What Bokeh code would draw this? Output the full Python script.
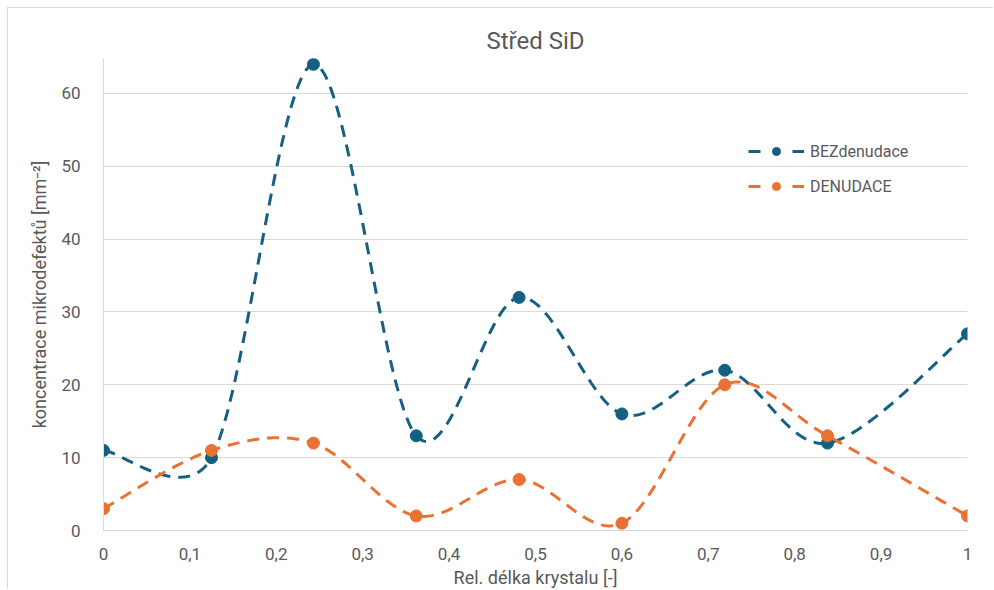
import numpy as np
from bokeh.plotting import figure
from bokeh.models import (FixedTicker, CustomJSTickFormatter, Legend, LegendItem,
                          Range1d)
from bokeh.embed import file_html
from bokeh.resources import INLINE

# relative crystal length positions and defect concentrations
rel_length = [0, 0.125, 0.243, 0.362, 0.481, 0.6, 0.719, 0.838, 1.0]
bez_denudace = [11, 10, 64, 13, 32, 16, 22, 12, 27]
denudace = [3, 11, 12, 2, 7, 1, 20, 13, 2]
series_names = ["BEZdenudace", "DENUDACE"]
x_ticks = [0, 0.1, 0.2, 0.3, 0.4, 0.5, 0.6, 0.7, 0.8, 0.9, 1.0]
y_ticks = [0, 10, 20, 30, 40, 50, 60]

BLUE = "#156082"
ORANGE = "#E97132"
GREY_TXT = "#595959"
GRID = "#d9d9d9"
FONT = "Roboto"

X_MAX, Y_MAX = 1.0, 64.8
FRAME_W, FRAME_H = 864, 473


def smooth(xs, ys, steps=40):
    """Bezier smoothing through the points; control handles are limited
    to half the segment length (measured in screen space)."""
    sx = FRAME_W / X_MAX
    sy = FRAME_H / Y_MAX
    pts = np.column_stack([np.asarray(xs, float) * sx, np.asarray(ys, float) * sy])
    n = len(pts)
    out = [pts[0]]
    t = np.linspace(0, 1, steps + 1)[1:, None]
    f0 = 1.0 / 6.0
    for i in range(n - 1):
        p0 = pts[max(i - 1, 0)]
        p1 = pts[i]
        p2 = pts[i + 1]
        p3 = pts[min(i + 2, n - 1)]
        d02 = np.hypot(*(p2 - p0))
        d13 = np.hypot(*(p3 - p1))
        d12 = np.hypot(*(p2 - p1))
        f1 = f2 = f0
        if d02 * f0 >= d12 / 2 and d02 > 0:
            f1 = d12 / d02 / 2
        if d13 * f0 >= d12 / 2 and d13 > 0:
            f2 = d12 / d13 / 2
        c1 = p1 + (p2 - p0) * f1
        c2 = p2 - (p3 - p1) * f2
        seg = ((1 - t) ** 3) * p1 + 3 * ((1 - t) ** 2) * t * c1 \
            + 3 * (1 - t) * (t ** 2) * c2 + (t ** 3) * p2
        out.extend(seg)
    out = np.array(out)
    return out[:, 0] / sx, out[:, 1] / sy


p = figure(width=986, height=582, margin=(8, 0, 0, 8),
           output_backend="svg", toolbar_location=None,
           x_range=Range1d(0, X_MAX), y_range=Range1d(0, Y_MAX),
           min_border_left=95, min_border_right=27,
           min_border_top=50, min_border_bottom=59)
p.styles = {"box-shadow": "-1px -1px 0 0 #d9d9d9"}
p.outline_line_color = None
p.background_fill_color = "white"
p.border_fill_color = "white"

# title
p.title.text = "Střed SiD"
p.title.align = "center"
p.title.offset = -27
p.title.text_font = FONT
p.title.text_font_size = "24px"
p.title.text_font_style = "normal"
p.title.text_color = GREY_TXT
p.title.standoff = 8

# axes
p.xaxis.ticker = FixedTicker(ticks=x_ticks)
p.yaxis.ticker = FixedTicker(ticks=y_ticks)
p.xaxis.formatter = CustomJSTickFormatter(code="return String(tick).replace('.', ',');")
for ax in (p.xaxis, p.yaxis):
    ax.major_tick_line_color = None
    ax.minor_tick_line_color = None
    ax.axis_line_color = GRID
    ax.axis_line_width = 1
    ax.major_label_text_font = FONT
    ax.major_label_text_font_size = "17px"
    ax.major_label_text_color = GREY_TXT
    ax.axis_label_text_font = FONT
    ax.axis_label_text_font_size = "18px"
    ax.axis_label_text_font_style = "normal"
    ax.axis_label_text_color = GREY_TXT
p.xaxis.major_label_standoff = 11
p.yaxis.major_label_standoff = 17
p.xaxis.axis_label = "Rel. délka krystalu [-]"
p.yaxis.axis_label = "koncentrace mikrodefektů [mm⁻²]"
p.xaxis.axis_label_standoff = 4
p.yaxis.axis_label_standoff = 8

p.xgrid.grid_line_color = None
p.ygrid.grid_line_color = GRID
p.ygrid.grid_line_width = 1

legend_items = []
for name, vals, color in ((series_names[0], bez_denudace, BLUE),
                          (series_names[1], denudace, ORANGE)):
    sx, sy = smooth(rel_length, vals)
    p.line(sx, sy, line_color=color, line_width=3, line_dash="12 8",
           line_cap="butt")
    pts = p.scatter(rel_length, vals, size=12, marker="circle",
                    fill_color=color, line_color=color)
    # legend-only line: dash - gap - dash around the marker
    key = p.line(x=[np.nan], y=[np.nan], line_color=color, line_width=3,
                 line_dash="12 32")
    legend_items.append(LegendItem(label=name, renderers=[key, pts]))

legend = Legend(items=legend_items, location=(645, 334),
                glyph_width=56, glyph_height=20, spacing=15, padding=0,
                margin=0, label_standoff=6,
                label_text_font=FONT, label_text_font_size="16px",
                label_text_color=GREY_TXT,
                background_fill_alpha=0, border_line_alpha=0)
p.add_layout(legend)

open("out.html", "w").write(file_html(p, INLINE))
